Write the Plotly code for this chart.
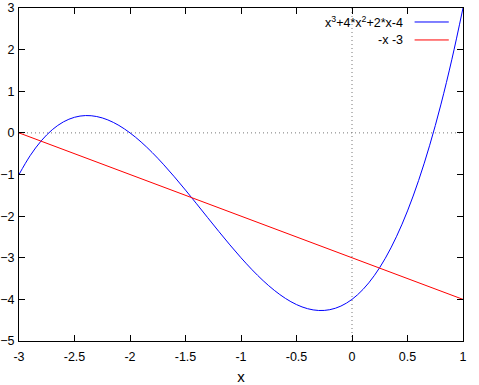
import plotly.graph_objects as go

# Data
x_cubic = [-3.0, -2.9, -2.8, -2.7, -2.6, -2.5, -2.4, -2.3, -2.2, -2.1, -2.0,
           -1.9, -1.8, -1.7, -1.6, -1.5, -1.4, -1.3, -1.2, -1.1, -1.0,
           -0.9, -0.8, -0.7, -0.6, -0.5, -0.4, -0.3, -0.2, -0.1, 0.0,
           0.1, 0.2, 0.3, 0.4, 0.5, 0.6, 0.7, 0.8, 0.9, 1.0]
y_cubic = [-1.0, -0.549, -0.192, 0.077, 0.264, 0.375, 0.416, 0.393, 0.312, 0.179, 0.0,
           -0.219, -0.472, -0.753, -1.056, -1.375, -1.704, -2.037, -2.368, -2.691, -3.0,
           -3.289, -3.552, -3.783, -3.976, -4.125, -4.224, -4.267, -4.248, -4.161, -4.0,
           -3.759, -3.432, -3.013, -2.496, -1.875, -1.144, -0.297, 0.672, 1.769, 3.0]
x_line = [-3.0, 1.0]
y_line = [0.0, -4.0]

series_names = ["x<sup>3</sup>+4*x<sup>2</sup>+2*x-4", "-x -3"]
series_colors = ["#0000ff", "#ff0000"]

x_ticks = [-3, -2.5, -2, -1.5, -1, -0.5, 0, 0.5, 1]
x_ticklabels = ["-3", "-2.5", "-2", "-1.5", "-1", "-0.5", "0", "0.5", "1"]
y_ticks = [-5, -4, -3, -2, -1, 0, 1, 2, 3]

FONT = "Liberation Sans, Arial, sans-serif"

fig = go.Figure()
fig.add_trace(go.Scatter(x=x_cubic, y=y_cubic, mode="lines", name=series_names[0],
                         line=dict(color=series_colors[0], width=1, shape="spline", smoothing=1.0)))
fig.add_trace(go.Scatter(x=x_line, y=y_line, mode="lines", name=series_names[1],
                         line=dict(color=series_colors[1], width=1)))

# dotted zero axes
dot = dict(color="#777777", width=1, dash="1px,3px")
fig.add_shape(type="line", xref="x", yref="paper", x0=0, x1=0, y0=0, y1=1,
              line=dot, layer="below")
fig.add_shape(type="line", xref="paper", yref="y", x0=0, x1=1, y0=0, y1=0,
              line=dot, layer="below")

# gnuplot-style legend: text right-aligned, sample line to the right
leg_y = [0.958, 0.904]
for i, (nm, col) in enumerate(zip(series_names, series_colors)):
    fig.add_annotation(xref="paper", yref="paper", x=0.87, y=leg_y[i], text=nm,
                       showarrow=False, xanchor="right", yanchor="middle",
                       font=dict(family=FONT, size=12.5, color="black"))
    fig.add_shape(type="line", xref="paper", yref="paper", x0=0.891, x1=0.968,
                  y0=leg_y[i], y1=leg_y[i], line=dict(color=col, width=1))

fig.update_layout(
    width=479, height=385,
    margin=dict(l=19, r=16, t=8, b=44),
    paper_bgcolor="white", plot_bgcolor="white",
    showlegend=False,
    font=dict(family=FONT, size=12.5, color="black"),
    xaxis=dict(range=[-3, 1], tickvals=x_ticks, ticktext=x_ticklabels,
               showgrid=False, zeroline=False, showline=True, linecolor="black",
               linewidth=1, mirror="allticks", ticks="inside", ticklen=6,
               tickcolor="black", automargin=False, ticklabelstandoff=4,
               title=dict(text="x", standoff=17)),
    yaxis=dict(range=[-5, 3], tickvals=y_ticks, showgrid=False, zeroline=False,
               showline=True, linecolor="black", linewidth=1, mirror="allticks",
               ticks="inside", ticklen=6, tickcolor="black", automargin=False,
               ticklabelstandoff=1),
)

fig.write_html("out.html")
